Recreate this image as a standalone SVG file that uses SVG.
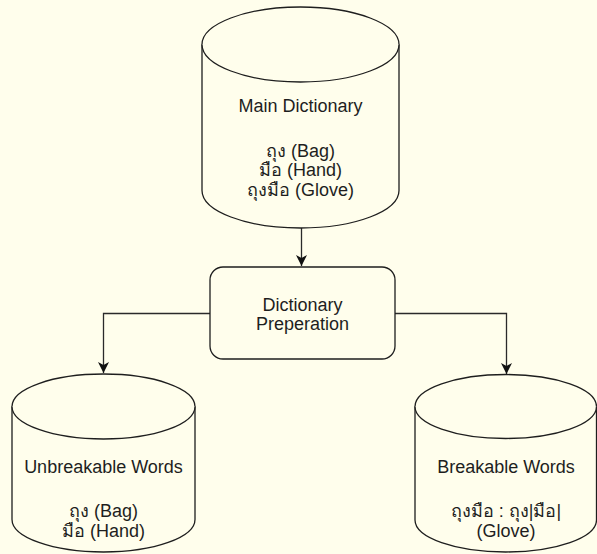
<svg xmlns="http://www.w3.org/2000/svg" width="597" height="554" viewBox="0 0 597 554">
<defs>
<marker id="arr" viewBox="0 0 12 12" markerWidth="12" markerHeight="12" refX="11" refY="6" orient="auto" markerUnits="userSpaceOnUse">
<path d="M0,0.5 L11,6 L0,11.5 L3,6 Z" fill="#111"/>
</marker>
<style>
.shape{fill:#fffeec;stroke:#1e1e1e;stroke-width:1.3}
.edge{fill:none;stroke:#2a2a2a;stroke-width:1.3}
text{font-family:"Liberation Sans","Noto Sans",Arial,sans-serif;font-size:18px;fill:#1e1e1e;text-anchor:middle}
</style>
</defs>
<rect x="0" y="0" width="597" height="554" fill="#fffeec"/>
<g id="connectors">
<path class="edge" d="M301.5,228 L301.5,266" marker-end="url(#arr)"/>
<path class="edge" d="M210,313.5 L103.5,313.5 L103.5,373" marker-end="url(#arr)"/>
<path class="edge" d="M395,313.5 L506.5,313.5 L506.5,374" marker-end="url(#arr)"/>
</g>
<g id="main-dictionary">
<path class="shape" d="M202,44.5 A98.5,37.5 0 0 1 399,44.5 L399,190.5 A98.5,37.5 0 0 1 202,190.5 Z"/>
<path class="shape" fill="none" d="M202,44.5 A98.5,37.5 0 0 0 399,44.5"/>
<text x="300.5" y="112">Main Dictionary</text>
<text x="300.5" y="157">ถุง (Bag)</text>
<text x="300.5" y="176">มือ (Hand)</text>
<text x="300.5" y="196">ถุงมือ (Glove)</text>
</g>
<g id="dictionary-preperation">
<rect class="shape" x="210" y="267" width="185" height="92" rx="13" ry="13"/>
<text x="302.5" y="311">Dictionary</text>
<text x="302.5" y="330">Preperation</text>
</g>
<g id="unbreakable-words">
<path class="shape" d="M12,406.5 A91.5,32.5 0 0 1 195,406.5 L195,519.5 A91.5,32.5 0 0 1 12,519.5 Z"/>
<path class="shape" fill="none" d="M12,406.5 A91.5,32.5 0 0 0 195,406.5"/>
<text x="103.5" y="473">Unbreakable Words</text>
<text x="103.5" y="517">ถุง (Bag)</text>
<text x="103.5" y="537">มือ (Hand)</text>
</g>
<g id="breakable-words">
<path class="shape" d="M415,406.5 A90.75,32 0 0 1 596.5,406.5 L596.5,520 A90.75,32 0 0 1 415,520 Z"/>
<path class="shape" fill="none" d="M415,406.5 A90.75,32 0 0 0 596.5,406.5"/>
<text x="506" y="473">Breakable Words</text>
<text x="506" y="517">ถุงมือ : ถุง|มือ|</text>
<text x="506" y="537">(Glove)</text>
</g>
</svg>
